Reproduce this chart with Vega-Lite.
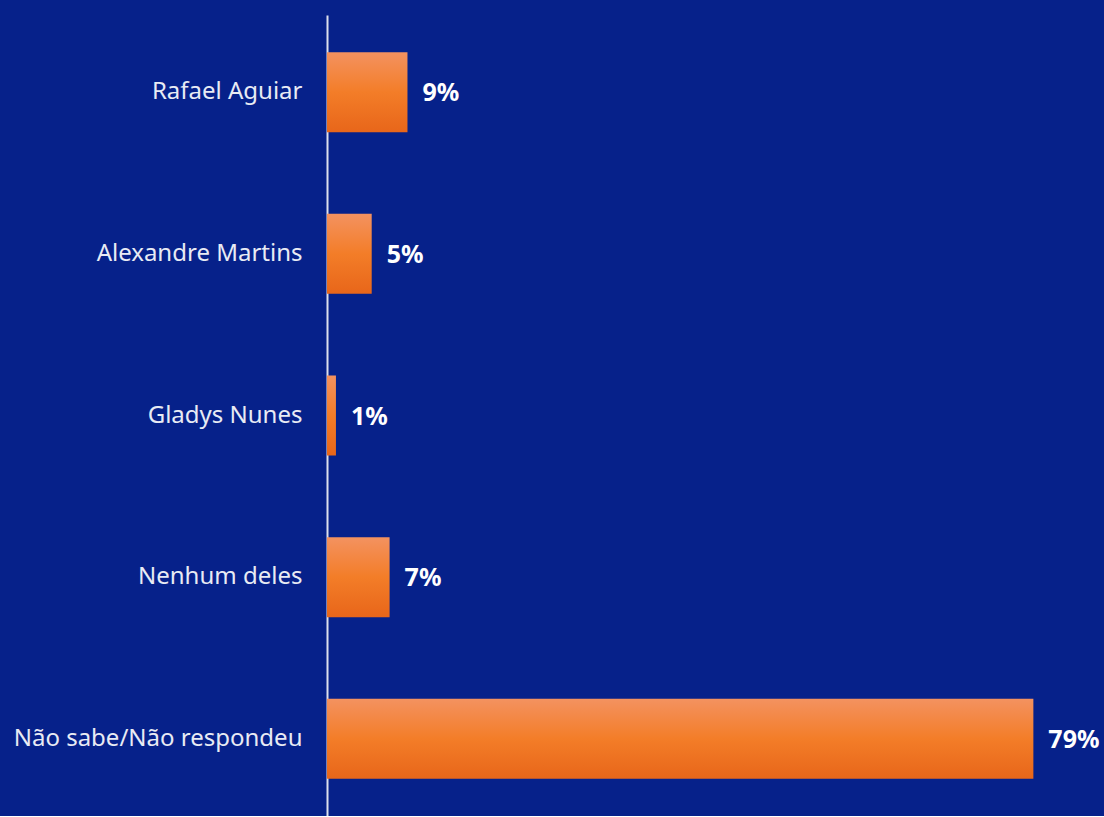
{
  "$schema": "https://vega.github.io/schema/vega-lite/v6.json",
  "autosize": {"type": "none"},
  "padding": {"left": 327, "top": 15, "right": 0, "bottom": 0},
  "width": 777,
  "height": 801,
  "background": "#06218A",
  "config": {"view": {"stroke": null}, "font": "Noto Sans"},
  "data": {"values": [
    {"nome": "Rafael Aguiar", "valor": 9, "rotulo": "9%"},
    {"nome": "Alexandre Martins", "valor": 5, "rotulo": "5%"},
    {"nome": "Gladys Nunes", "valor": 1, "rotulo": "1%"},
    {"nome": "Nenhum deles", "valor": 7, "rotulo": "7%"},
    {"nome": "Não sabe/Não respondeu", "valor": 79, "rotulo": "79%"}
  ]},
  "encoding": {
    "y": {"field": "nome", "type": "nominal", "sort": null,
      "scale": {"paddingInner": 0.505, "paddingOuter": 0.23},
      "axis": {"title": null, "ticks": false, "labelPadding": 25, "labelFontSize": 24, "labelLimit": 400, "labelColor": "#E8EBF4", "labelFont": "Noto Sans", "domainColor": "#DCE0EC", "domainWidth": 2, "grid": false}},
    "x": {"field": "valor", "type": "quantitative", "scale": {"domain": [0, 86.9], "nice": false}, "axis": null}
  },
  "layer": [
    {"mark": {"type": "bar", "cornerRadius": 0, "color": {"gradient": "linear", "x1": 0, "y1": 0, "x2": 0, "y2": 1, "stops": [{"offset": 0, "color": "#F39260"}, {"offset": 0.5, "color": "#F37D28"}, {"offset": 1, "color": "#E8661A"}]}}},
    {"mark": {"type": "text", "align": "left", "baseline": "middle", "dx": 15, "fontSize": 25, "fontWeight": "bold", "color": "#FFFFFF", "font": "Noto Sans", "dy": 1},
     "encoding": {"text": {"field": "rotulo"}}}
  ]
}
